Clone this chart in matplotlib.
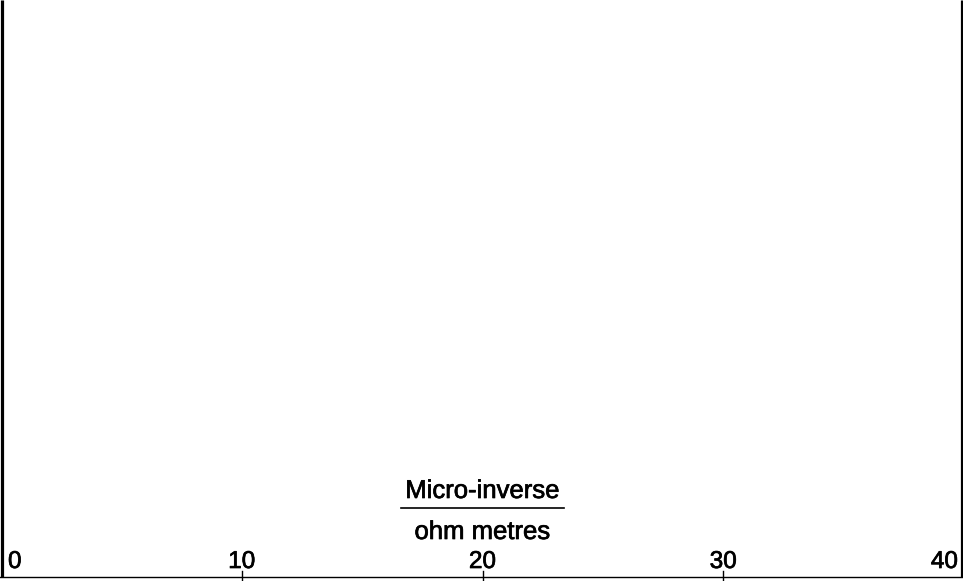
import matplotlib.pyplot as plt
import matplotlib.patheffects as pe

# scale along the bottom edge
tick_values = [0, 10, 20, 30, 40]
tick_labels = ["0", "10", "20", "30", "40"]
unit_top = "Micro-inverse"
unit_bottom = "ohm metres"

W, H = 963, 581
plt.rcParams['font.family'] = ['Liberation Sans', 'DejaVu Sans']

fig = plt.figure(figsize=(W / 100, H / 100), dpi=100)
ax = fig.add_axes([0, 0, 1, 1])
px = 24.05  # pixels per unit
x0 = 1.0 / px
ax.set_xlim(-x0, (W - 1.0) / px - x0)
ax.set_ylim(H, 0)  # y in pixels from the top
ax.axis('off')

# thicken glyph strokes a little
heavy = [pe.withStroke(linewidth=0.5, foreground='black')]

# frame: heavy side borders, thin baseline
ax.plot([-x0 + 1.5 / px] * 2, [0, 577], color='black', lw=2.3, solid_capstyle='butt')
ax.plot([(W - 1.5) / px - x0] * 2, [0, 577], color='black', lw=2.3, solid_capstyle='butt')
ax.plot([tick_values[0] - x0, tick_values[-1] + x0], [576.5, 576.5], color='black', lw=1.0)

for v, lab in zip(tick_values, tick_labels):
    if 0 < v < tick_values[-1]:
        ax.plot([v, v], [571, 581], color='black', lw=1.0)
        ax.text(v, 568, lab, ha='center', va='baseline', fontsize=17.5, path_effects=heavy)
    elif v == tick_values[0]:
        ax.text(v + 7 / px, 568, lab, ha='left', va='baseline', fontsize=17.5, path_effects=heavy)
    else:
        ax.text(v - 6 / px, 568, lab, ha='right', va='baseline', fontsize=17.5, path_effects=heavy)

# unit label as a fraction
mid = 482 / px - x0
ax.text(mid, 498, unit_top, ha='center', va='baseline', fontsize=18.5, path_effects=heavy)
ax.plot([401 / px - x0, 563 / px - x0], [507.5, 507.5], color='black', lw=1.2)
ax.text(mid, 539, unit_bottom, ha='center', va='baseline', fontsize=18.5, path_effects=heavy)

fig.savefig("out.png", dpi=100, facecolor='white')
